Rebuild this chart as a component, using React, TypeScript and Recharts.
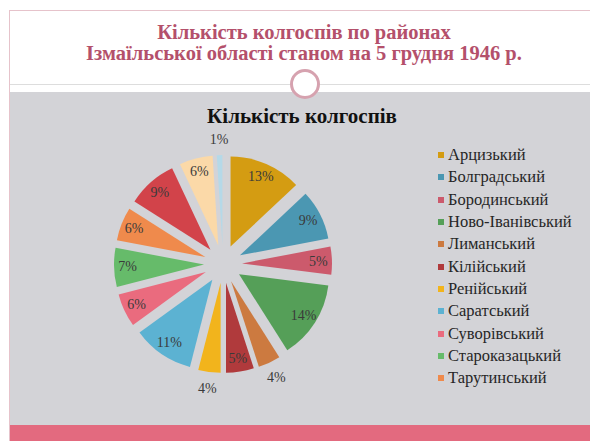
import { PieChart, Pie, Cell, Sector, Legend } from "recharts";

const districts = [
  "Арцизький",
  "Болградський",
  "Бородинський",
  "Ново-Іванівський",
  "Лиманський",
  "Кілійський",
  "Ренійський",
  "Саратський",
  "Суворівський",
  "Староказацький",
  "Тарутинський",
  "Татарбунарський",
  "Ізмаїльський",
  "Вилківський",
];

const shares = [13, 9, 5, 14, 4, 5, 4, 11, 6, 7, 6, 9, 6, 1];

const colors = [
  "#d49c12",
  "#4b97b2",
  "#cc5a6c",
  "#559f58",
  "#cc7a40",
  "#b03a3c",
  "#f2b41c",
  "#5cb2d2",
  "#ea6b7e",
  "#66bb6a",
  "#ef8a4c",
  "#d2434a",
  "#fbd9a8",
  "#b5d9e8",
];

// the slide legend only shows the first 11 districts
const legendShown = 11;

const chartData = districts.map((name, i) => ({ name, value: shares[i] }));

const RAD = Math.PI / 180;
const EXPLODE = 19;
const SERIF = "'Liberation Serif', 'DejaVu Serif', serif";

function explodedSlice(props: any) {
  const { cx, cy, midAngle } = props;
  const dx = EXPLODE * Math.cos(-midAngle * RAD);
  const dy = EXPLODE * Math.sin(-midAngle * RAD);
  return <Sector {...props} cx={cx + dx} cy={cy + dy} stroke="none" />;
}

function sliceLabel(props: any) {
  const { cx, cy, midAngle, outerRadius, value } = props;
  const outside = value <= 4;
  const r = outside ? outerRadius + EXPLODE + 16 : EXPLODE + outerRadius * 0.85;
  const x = cx + r * Math.cos(-midAngle * RAD);
  const y = cy + r * Math.sin(-midAngle * RAD);
  return (
    <text
      x={x}
      y={y}
      textAnchor="middle"
      dominantBaseline="central"
      fill="#3a3a3a"
      fontSize={14}
      fontFamily={SERIF}
    >
      {value}%
    </text>
  );
}

function renderLegend() {
  return (
    <div style={{ fontFamily: SERIF, fontSize: 16.5, color: "#262626" }}>
      {districts.slice(0, legendShown).map((name, i) => (
        <div
          key={name}
          style={{ display: "flex", alignItems: "center", height: 22.3, whiteSpace: "nowrap" }}
        >
          <span
            style={{
              display: "inline-block",
              width: 6,
              height: 6,
              background: colors[i],
              marginRight: 4,
            }}
          />
          {name}
        </div>
      ))}
    </div>
  );
}

export default function App() {
  return (
    <div
      style={{
        position: "absolute",
        left: 0,
        top: 0,
        width: 590,
        height: 441,
        background: "#fff",
        overflow: "hidden",
      }}
    >
      {/* slide frame */}
      <div style={{ position: "absolute", left: 9, top: 10, width: 581, height: 1, background: "#e6c3cb" }} />
      <div style={{ position: "absolute", left: 9, top: 10, width: 1, height: 431, background: "#e6c3cb" }} />
      <div style={{ position: "absolute", left: 10, top: 84, width: 580, height: 1, background: "#dddddd" }} />
      <div style={{ position: "absolute", left: 10, top: 92, width: 580, height: 333, background: "#d3d3d7" }} />
      <div style={{ position: "absolute", left: 10, top: 425, width: 580, height: 16, background: "#e36a7f" }} />
      <div
        style={{
          position: "absolute",
          left: 305 - 15,
          top: 84 - 15,
          width: 24,
          height: 24,
          borderRadius: "50%",
          border: "3px solid #d6a2af",
          background: "#fff",
        }}
      />

      <div
        style={{
          position: "absolute",
          left: 0,
          width: 608,
          top: 22,
          textAlign: "center",
          fontFamily: SERIF,
          fontWeight: "bold",
          fontSize: 20.5,
          lineHeight: "21px",
          color: "#b4506b",
        }}
      >
        Кількість колгоспів по районах
        <br />
        Ізмаїльської області станом на 5 грудня 1946 р.
      </div>

      <div
        style={{
          position: "absolute",
          left: 0,
          width: 604,
          top: 104,
          textAlign: "center",
          fontFamily: SERIF,
          fontWeight: "bold",
          fontSize: 21,
          lineHeight: "24px",
          color: "#111",
        }}
      >
        Кількість колгоспів
      </div>

      <div style={{ position: "absolute", left: 0, top: 0 }}>
        <PieChart width={590} height={441} margin={{ top: 0, right: 0, bottom: 0, left: 0 }}>
          <Pie
            data={chartData}
            dataKey="value"
            nameKey="name"
            cx={223}
            cy={264}
            outerRadius={90}
            startAngle={90}
            endAngle={-270}
            shape={explodedSlice}
            label={sliceLabel}
            labelLine={false}
            isAnimationActive={false}
          >
            {chartData.map((d, i) => (
              <Cell key={d.name} fill={colors[i]} />
            ))}
          </Pie>
          <Legend
            layout="vertical"
            align="right"
            verticalAlign="top"
            content={renderLegend}
            wrapperStyle={{ position: "absolute", left: 438, top: 144, width: 152 }}
          />
        </PieChart>
      </div>
    </div>
  );
}
